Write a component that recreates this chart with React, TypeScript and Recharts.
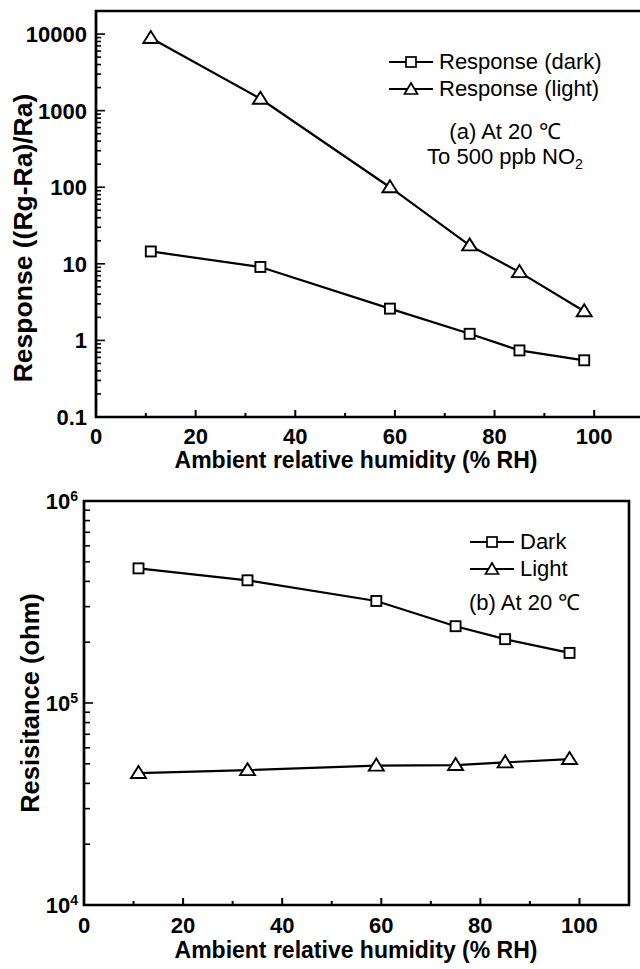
import { LineChart, Line, XAxis, YAxis, ReferenceArea, Label } from "recharts";

const humidity = [11, 33, 59, 75, 85, 98];

// panel (a): response to 500 ppb NO2
const responseDark = [14.5, 9.1, 2.6, 1.22, 0.74, 0.55];
const responseLight = [8900, 1430, 100, 17.4, 7.8, 2.4];

// panel (b): resistance in ohm
const resistanceDark = [464000, 405000, 320000, 240000, 207000, 177000];
const resistanceLight = [45000, 46500, 49000, 49300, 50800, 52800];

const xMajor = [0, 20, 40, 60, 80, 100];
const xMinor = [10, 30, 50, 70, 90];
const respMajor = [0.1, 1, 10, 100, 1000, 10000];
const resMajor = [10000, 100000, 1000000];

const FONT = "'Liberation Sans', Arial, Helvetica, sans-serif";

const withMinors = (majors: number[]) => {
  const out: number[] = [];
  majors.forEach((m, i) => {
    out.push(m);
    if (i < majors.length - 1) {
      for (let k = 2; k <= 9; k++) out.push(Number((m * k).toPrecision(3)));
    }
  });
  return out;
};

const topData = humidity.map((rh, i) => ({ rh, dark: responseDark[i], light: responseLight[i] }));
const bottomData = humidity.map((rh, i) => ({ rh, dark: resistanceDark[i], light: resistanceLight[i] }));

const tickText = { fontFamily: FONT, fontWeight: 700, fontSize: 22, fill: "#000" };

const XTick = (props: any) => {
  const { x, y, payload, base } = props;
  const v = payload.value;
  const major = xMajor.includes(v);
  return (
    <g>
      <line x1={x} x2={x} y1={y} y2={y - (major ? 7 : 4)} stroke="#000" strokeWidth={2} />
      {major && (
        <text x={x} y={y + base} textAnchor="middle" style={tickText}>
          {v}
        </text>
      )}
    </g>
  );
};

const RespTick = (props: any) => {
  const { x, y, payload } = props;
  const v = payload.value;
  const major = respMajor.includes(v);
  return (
    <g>
      <line x1={x} x2={x + (major ? 9 : 5)} y1={y} y2={y} stroke="#000" strokeWidth={1.6} />
      {major && (
        <text x={x - 9} y={y} dy="0.36em" textAnchor="end" style={tickText}>
          {v}
        </text>
      )}
    </g>
  );
};

const ResTick = (props: any) => {
  const { x, y, payload } = props;
  const v = payload.value;
  const major = resMajor.includes(v);
  return (
    <g>
      <line x1={x} x2={x + (major ? 9 : 6)} y1={y} y2={y} stroke="#000" strokeWidth={1.6} />
      {major && (
        <text x={x - 6} y={y} dy="0.36em" textAnchor="end" style={tickText}>
          10
          <tspan dy="-0.6em" fontSize={14}>
            {Math.round(Math.log10(v))}
          </tspan>
        </text>
      )}
    </g>
  );
};

const Square = (props: any) => {
  const { cx, cy } = props;
  if (cx == null || cy == null) return <g />;
  return <rect x={cx - 5} y={cy - 5} width={10} height={10} fill="#fff" stroke="#000" strokeWidth={1.9} />;
};

const Triangle = (props: any) => {
  const { cx, cy } = props;
  if (cx == null || cy == null) return <g />;
  return (
    <polygon
      points={`${cx},${cy - 7} ${cx - 7.5},${cy + 5} ${cx + 7.5},${cy + 5}`}
      fill="#fff"
      stroke="#000"
      strokeWidth={1.9}
    />
  );
};

const LegendIcon = ({ kind }: { kind: "square" | "triangle" }) => (
  <svg width={46} height={16} style={{ display: "block" }}>
    <line x1={1} x2={45} y1={8} y2={8} stroke="#000" strokeWidth={2.2} />
    {kind === "square" ? (
      <rect x={18} y={3} width={10} height={10} fill="#fff" stroke="#000" strokeWidth={1.7} />
    ) : (
      <polygon points="23,2 16.5,13 29.5,13" fill="#fff" stroke="#000" strokeWidth={1.7} />
    )}
  </svg>
);

const legendRow = (kind: "square" | "triangle", text: string, left: number, top: number) => (
  <div
    style={{
      position: "absolute",
      left,
      top,
      display: "flex",
      alignItems: "center",
      gap: 5,
      fontFamily: FONT,
      fontSize: 22,
      lineHeight: "24px",
      whiteSpace: "nowrap",
    }}
  >
    <LegendIcon kind={kind} />
    <span>{text}</span>
  </div>
);

const xTitle = (dy: number) => (props: any) => {
  const { viewBox } = props;
  return (
    <text
      x={356}
      y={viewBox.y + dy}
      textAnchor="middle"
      style={{ fontFamily: FONT, fontWeight: 700, fontSize: 23, fill: "#000" }}
    >
      Ambient relative humidity (% RH)
    </text>
  );
};

const yTitle = (text: string, cx: number, shift: number, size: number) => (props: any) => {
  const { viewBox } = props;
  const cy = viewBox.y + viewBox.height / 2 + shift;
  return (
    <text
      x={cx}
      y={cy}
      transform={`rotate(-90, ${cx}, ${cy})`}
      textAnchor="middle"
      dy="0.36em"
      style={{ fontFamily: FONT, fontWeight: 700, fontSize: size, fill: "#000" }}
    >
      {text}
    </text>
  );
};

export default function App() {
  return (
    <div style={{ position: "absolute", left: 0, top: 0, width: 640, height: 969, background: "#fff" }}>
      {/* (a) response vs humidity */}
      <div style={{ position: "absolute", left: 0, top: 0, width: 640, height: 475, overflow: "hidden" }}>
        <LineChart width={650} height={475} data={topData} margin={{ top: 11, right: 6, bottom: 0, left: 0 }}>
          <XAxis
            type="number"
            dataKey="rh"
            domain={[0, 110]}
            allowDataOverflow
            ticks={[...xMajor, ...xMinor]}
            interval={0}
            tickSize={0}
            tickMargin={0}
            tickLine={false}
            tick={(p: any) => <XTick {...p} base={27} />}
            axisLine={{ stroke: "#000", strokeWidth: 2.2 }}
            height={58}
          >
            <Label content={xTitle(51)} />
          </XAxis>
          <YAxis
            type="number"
            scale="log"
            domain={[0.1, 20000]}
            allowDataOverflow
            ticks={withMinors(respMajor)}
            interval={0}
            tickSize={0}
            tickMargin={0}
            tickLine={false}
            tick={(p: any) => <RespTick {...p} />}
            axisLine={{ stroke: "#000", strokeWidth: 2.2 }}
            width={96}
          >
            <Label content={yTitle("Response ((Rg-Ra)/Ra)", 22, 24, 26.5)} />
          </YAxis>
          <ReferenceArea x1={0} x2={110} y1={0.1} y2={20000} fill="none" stroke="#000" strokeWidth={2.6} ifOverflow="visible" />
          <Line
            dataKey="dark"
            stroke="#000"
            strokeWidth={2.2}
            dot={(p: any) => <Square key={`ad${p.index}`} {...p} />}
            isAnimationActive={false}
          />
          <Line
            dataKey="light"
            stroke="#000"
            strokeWidth={2.2}
            dot={(p: any) => <Triangle key={`al${p.index}`} {...p} />}
            isAnimationActive={false}
          />
        </LineChart>
        {legendRow("square", "Response (dark)", 388, 50)}
        {legendRow("triangle", "Response (light)", 388, 77)}
        <div
          style={{
            position: "absolute",
            left: 380,
            width: 250,
            top: 119,
            textAlign: "center",
            fontFamily: FONT,
            fontSize: 22,
            lineHeight: "25px",
          }}
        >
          (a) At 20 ℃
          <br />
          To 500 ppb NO<sub style={{ fontSize: 14, lineHeight: 0 }}>2</sub>
        </div>
      </div>

      {/* (b) resistance vs humidity */}
      <div style={{ position: "absolute", left: 0, top: 470, width: 640, height: 499, overflow: "hidden" }}>
        <LineChart width={640} height={499} data={bottomData} margin={{ top: 31, right: 11, bottom: 0, left: 0 }}>
          <XAxis
            type="number"
            dataKey="rh"
            domain={[0, 110]}
            allowDataOverflow
            ticks={[...xMajor, ...xMinor]}
            interval={0}
            tickSize={0}
            tickMargin={0}
            tickLine={false}
            tick={(p: any) => <XTick {...p} base={28} />}
            axisLine={{ stroke: "#000", strokeWidth: 2.2 }}
            height={64}
          >
            <Label content={xTitle(53)} />
          </XAxis>
          <YAxis
            type="number"
            scale="log"
            domain={[10000, 1000000]}
            allowDataOverflow
            ticks={withMinors(resMajor)}
            interval={0}
            tickSize={0}
            tickMargin={0}
            tickLine={false}
            tick={(p: any) => <ResTick {...p} />}
            axisLine={{ stroke: "#000", strokeWidth: 2.2 }}
            width={84}
          >
            <Label content={yTitle("Resisitance (ohm)", 30, 0, 25.5)} />
          </YAxis>
          <ReferenceArea x1={0} x2={110} y1={10000} y2={1000000} fill="none" stroke="#000" strokeWidth={2.6} ifOverflow="visible" />
          <Line
            dataKey="dark"
            stroke="#000"
            strokeWidth={2.2}
            dot={(p: any) => <Square key={`bd${p.index}`} {...p} />}
            isAnimationActive={false}
          />
          <Line
            dataKey="light"
            stroke="#000"
            strokeWidth={2.2}
            dot={(p: any) => <Triangle key={`bl${p.index}`} {...p} />}
            isAnimationActive={false}
          />
        </LineChart>
        {legendRow("square", "Dark", 469, 60)}
        {legendRow("triangle", "Light", 469, 87)}
        <div
          style={{
            position: "absolute",
            left: 469,
            top: 120,
            fontFamily: FONT,
            fontSize: 22,
            lineHeight: "25px",
            whiteSpace: "nowrap",
          }}
        >
          (b) At 20 ℃
        </div>
      </div>
    </div>
  );
}
